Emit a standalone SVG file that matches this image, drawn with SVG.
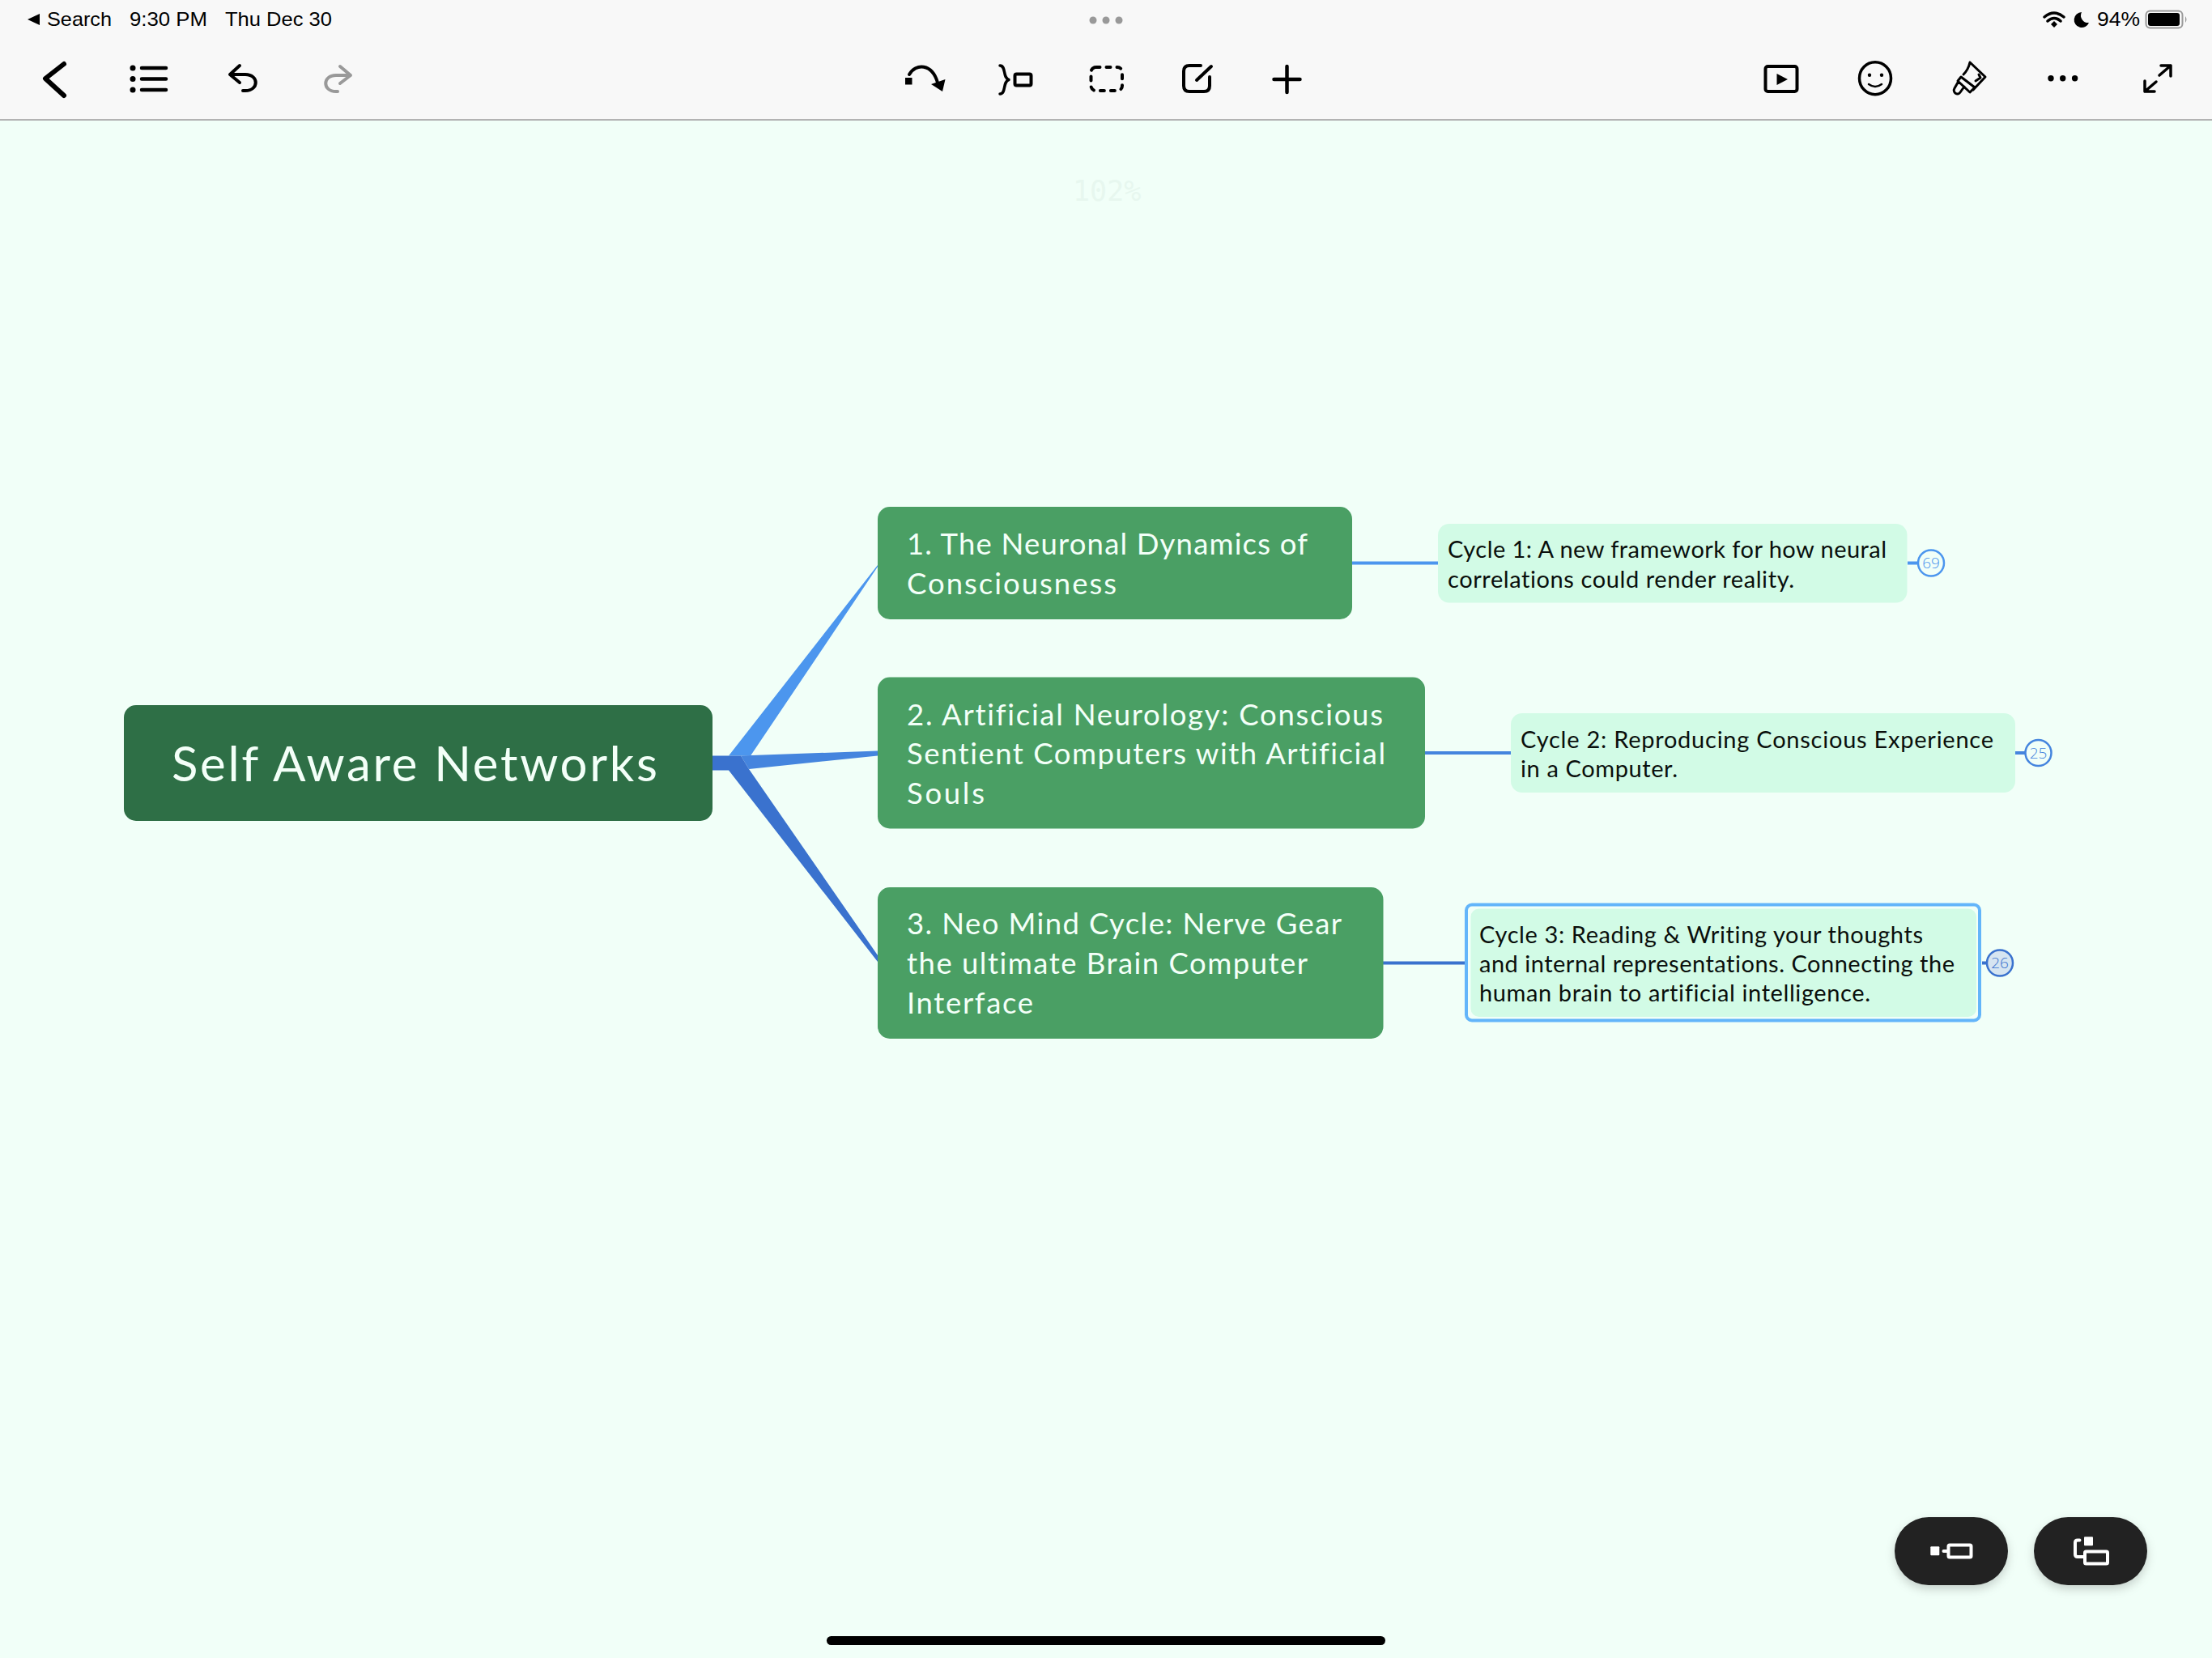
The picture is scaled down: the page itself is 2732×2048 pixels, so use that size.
<svg xmlns="http://www.w3.org/2000/svg" width="2732" height="2048" viewBox="0 0 2732 2048">
<defs>
<filter id="sh" x="-20%" y="-20%" width="140%" height="150%"><feDropShadow dx="0" dy="5" stdDeviation="6" flood-color="#000" flood-opacity="0.18"/></filter>
</defs>
<style>
.st{font-family:"Liberation Sans",Arial,sans-serif;font-size:24px;fill:#000}
.ic{fill:none;stroke:#000;stroke-width:4.500;stroke-linecap:round;stroke-linejoin:round}
.root{font-family:Lato,"Open Sans",sans-serif;font-size:60px;fill:#F3FFF8;font-variant-ligatures:none}
.nt{font-family:Lato,"Open Sans",sans-serif;font-size:36.500px;fill:#F3FFF8;font-variant-ligatures:none}
.tt{font-family:Lato,"Open Sans",sans-serif;font-size:29px;fill:#0A0F0C;font-variant-ligatures:none}
.n{fill:#4A9F64}
.note{fill:#D2FBE6}
.bd{fill:#F1FFF8;stroke-width:2.500}
.bt{font-family:"Open Sans",sans-serif;font-size:19px;font-weight:300;text-anchor:middle}
.wh{fill:none;stroke:#fff;stroke-width:4;stroke-linejoin:round;stroke-linecap:round}
</style>
<rect width="2732" height="2048" fill="#F1FFF8"/>
<rect width="2732" height="147" fill="#F8F8F8"/>
<rect y="147" width="2732" height="2" fill="#B3B3B3"/>

<g id="status-bar">
<path d="M34 24L49 17V31Z"/>
<text class="st" x="58" y="32" textLength="80" lengthAdjust="spacingAndGlyphs">Search</text>
<text class="st" x="160" y="32" textLength="96" lengthAdjust="spacingAndGlyphs">9:30 PM</text>
<text class="st" x="278" y="32" textLength="132" lengthAdjust="spacingAndGlyphs">Thu Dec 30</text>
<g fill="#999"><circle cx="1350" cy="25" r="4.500"/><circle cx="1366" cy="25" r="4.500"/><circle cx="1382" cy="25" r="4.500"/></g>
<g fill="none" stroke="#000" stroke-width="3.500" stroke-linecap="round"><path d="M2525 21Q2537 11 2549 21"/><path d="M2529 26Q2537 19 2545 26"/></g>
<path d="M2533 30L2537 26L2541 30L2537 34Z"/>
<path d="M2571 15A9.500 9.500 0 1 0 2580 28A9 9 0 0 1 2571 15Z"/>
<text class="st" x="2590" y="32" textLength="53" lengthAdjust="spacingAndGlyphs">94%</text>
<rect x="2650.500" y="13.500" width="45" height="21" rx="5" fill="none" stroke="#999" stroke-width="2"/>
<rect x="2653" y="16" width="39" height="16" rx="3"/>
<path d="M2699 20Q2702 24 2699 28Z" fill="#999"/>
</g>

<g id="toolbar">
<path class="ic" d="M79 79L56 97L79 118" style="stroke-width:6"/>
<g fill="#000"><circle cx="164" cy="84" r="3.500"/><circle cx="164" cy="97.500" r="3.500"/><circle cx="164" cy="111" r="3.500"/></g>
<path class="ic" d="M175 84H205M175 97.500H205M175 111H205"/>
<path class="ic" style="stroke-width:4" d="M296 81L284 92L296 102M285 92H303C320 92 320 112 303 112H300"/>
<path class="ic" d="M420 82L433 93L420 103M432 93H415C398 93 398 113 415 113H417" style="stroke:#999;stroke-width:4"/>
<rect x="1118" y="96" width="8.500" height="8.500"/>
<path class="ic" d="M1123 92C1131 78 1151 78 1158 102" style="stroke-width:4"/>
<path d="M1150 104L1167.500 98L1164 113Z"/>
<path class="ic" d="M1235 81C1243 81 1238 96 1246 98.500C1238 101 1243 116 1235 116" style="stroke-width:3.500"/>
<rect x="1253.500" y="91.500" width="20" height="14" rx="2" class="ic" style="stroke-width:4"/>
<rect x="1347.500" y="83" width="38.500" height="29" rx="6" class="ic" style="stroke-width:4" stroke-dasharray="5 8"/>
<path class="ic" style="stroke-width:4" d="M1483 81H1469Q1462 81 1462 88V106Q1462 113 1469 113H1487Q1494 113 1494 106V95M1478 99L1496 82"/>
<path class="ic" d="M1573.500 98H1605.500M1589.500 82V114"/>
<rect x="2180.500" y="82" width="39" height="31" rx="3" class="ic" style="stroke-width:4"/>
<path d="M2194.500 91L2208 98L2194.500 105Z"/>
<ellipse cx="2316" cy="96.700" rx="19.500" ry="20" class="ic" style="stroke-width:3.500"/>
<circle cx="2309" cy="92.700" r="2.200"/><circle cx="2324" cy="92.700" r="2.200"/>
<path class="ic" d="M2308 104Q2316 110 2324 104" style="stroke-width:2.500"/>
<path class="ic" d="M2425 92Q2431 86 2433 77L2452 95L2437 111M2440 100L2446 96L2444 92M2422 95L2439 108L2433 114L2418 100ZM2418 102L2414 109C2411 114 2418 119 2421 114L2426 107" style="stroke-width:3"/>
<g fill="#000"><circle cx="2533" cy="96.700" r="3.700"/><circle cx="2547.700" cy="96.700" r="3.700"/><circle cx="2562.600" cy="96.700" r="3.700"/></g>
<path class="ic" d="M2667 93L2681 81M2669 81H2681V94M2663 101L2649 113M2649 100V113H2661" style="stroke-width:3.500"/>
</g>

<text x="1325" y="248" font-family="DejaVu Sans Mono,monospace" font-size="35" fill="#E7F7EF">102%</text>

<g id="connectors">
<path d="M880 933.500H900L1084 698L1084 700L927 933.500Z" fill="#4C96EE"/>
<path d="M915 933.500L1084 927.500V933.500L925 950Z" fill="#4585DE"/>
<path d="M880 933.500H915L925 950L1084 1180V1188L900 951.500H880Z" fill="#3A72CE"/>
<path d="M1670 695.500H1776M2356 695.500H2368" stroke="#4C96EE" stroke-width="4" fill="none"/>
<path d="M1760 930H1866M2489 930H2501" stroke="#4585DE" stroke-width="4" fill="none"/>
<path d="M1708 1189.500H1813M2448 1189.500H2454" stroke="#3A72CE" stroke-width="4" fill="none"/>
</g>

<g id="root-node">
<rect x="153" y="871" width="727" height="143" rx="15" fill="#2E6F46"/>
<text class="root" x="212" y="965" textLength="600">Self Aware Networks</text>
</g>
<g id="node-1">
<rect class="n" x="1084" y="626" width="586" height="139" rx="15"/>
<text class="nt" x="1120" y="685" textLength="495">1. The Neuronal Dynamics of</text>
<text class="nt" x="1120" y="733.500" textLength="259">Consciousness</text>
</g>
<g id="node-2">
<rect class="n" x="1084" y="836.500" width="676" height="187" rx="15"/>
<text class="nt" x="1120" y="895.500" textLength="588">2. Artificial Neurology: Conscious</text>
<text class="nt" x="1120" y="944" textLength="591">Sentient Computers with Artificial</text>
<text class="nt" x="1120" y="993" textLength="96">Souls</text>
</g>
<g id="node-3">
<rect class="n" x="1084" y="1096" width="624.500" height="187" rx="15"/>
<text class="nt" x="1120" y="1154" textLength="537">3. Neo Mind Cycle: Nerve Gear</text>
<text class="nt" x="1120" y="1203" textLength="495">the ultimate Brain Computer</text>
<text class="nt" x="1120" y="1252" textLength="156">Interface</text>
</g>
<g id="note-1">
<rect class="note" x="1776" y="647" width="579.500" height="97.500" rx="14"/>
<text class="tt" x="1788" y="689" textLength="542">Cycle 1: A new framework for how neural</text>
<text class="tt" x="1788" y="725.500" textLength="428">correlations could render reality.</text>
<circle class="bd" cx="2385" cy="695.500" r="16" stroke="#4C96EE"/>
<text class="bt" x="2385" y="702" fill="#4C96EE">69</text>
</g>
<g id="note-2">
<rect class="note" x="1866" y="881" width="623" height="98" rx="14"/>
<text class="tt" x="1878" y="923.500" textLength="584">Cycle 2: Reproducing Conscious Experience</text>
<text class="tt" x="1878" y="959.500" textLength="194">in a Computer.</text>
<circle class="bd" cx="2517.500" cy="930" r="16" stroke="#4585DE"/>
<text class="bt" x="2517.500" y="936.500" fill="#4585DE">25</text>
</g>
<g id="note-3">
<rect x="1811" y="1117.500" width="634" height="143" rx="7" fill="none" stroke="#63B5FA" stroke-width="4"/>
<rect class="note" x="1816.500" y="1122.500" width="624.500" height="133.500" rx="10"/>
<text class="tt" x="1827" y="1164.500" textLength="548">Cycle 3: Reading &amp; Writing your thoughts</text>
<text class="tt" x="1827" y="1200.500" textLength="587">and internal representations. Connecting the</text>
<text class="tt" x="1827" y="1237" textLength="483">human brain to artificial intelligence.</text>
<circle cx="2470" cy="1189.500" r="16" fill="#D6E5F1" stroke="#3A72CE" stroke-width="2.500"/>
<text class="bt" x="2470" y="1196" fill="#3A72CE">26</text>
</g>

<g id="button-1">
<rect x="2340" y="1874" width="140" height="84" rx="42" fill="#232323" filter="url(#sh)"/>
<rect x="2384.300" y="1910.300" width="11" height="11" rx="1" fill="#fff"/>
<path class="wh" d="M2400.500 1916H2406"/>
<rect class="wh" x="2406.500" y="1908.500" width="28" height="15" rx="1.500"/>
</g>
<g id="button-2">
<rect x="2512" y="1874" width="140" height="84" rx="42" fill="#232323" filter="url(#sh)"/>
<rect x="2574" y="1898.300" width="11" height="11" rx="1" fill="#fff"/>
<path class="wh" d="M2568.500 1902.500H2566Q2563 1902.500 2563 1905.500V1920Q2563 1923 2566 1923H2573"/>
<rect class="wh" x="2575" y="1916.500" width="28" height="15" rx="1.500"/>
</g>
<rect id="home-indicator" x="1021" y="2021" width="690" height="11" rx="5.500" fill="#000"/>
</svg>
